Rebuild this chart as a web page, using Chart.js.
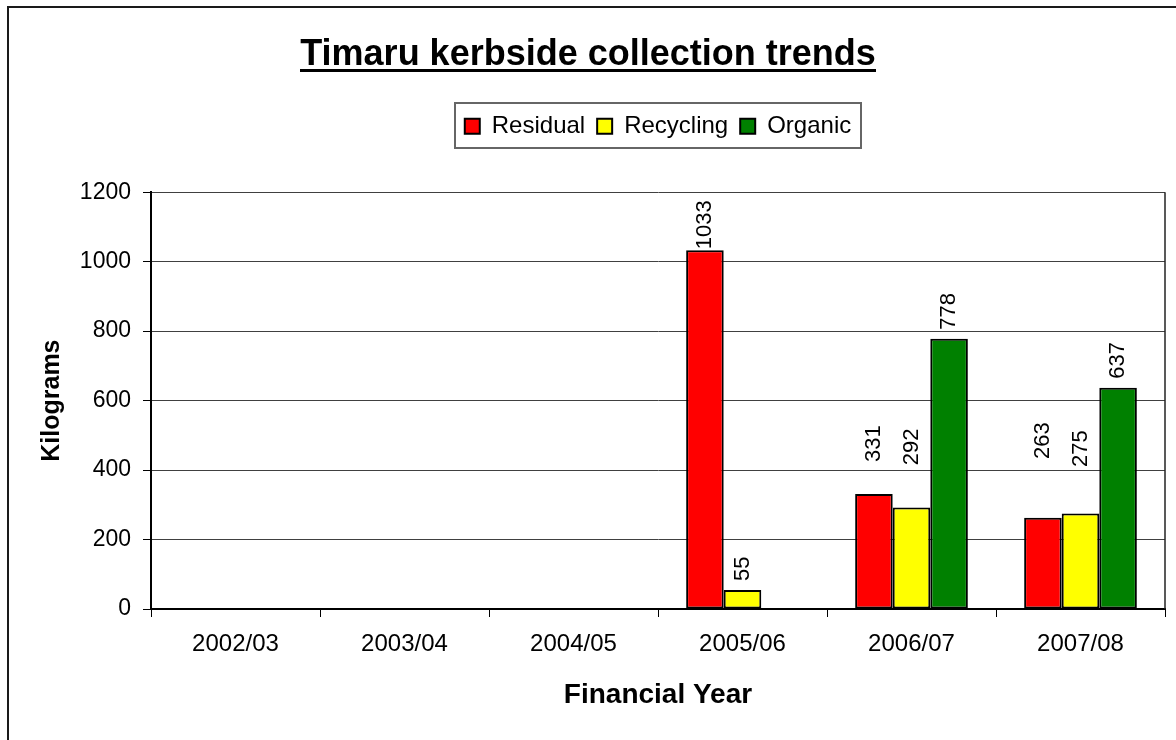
<!DOCTYPE html>
<html><head><meta charset="utf-8">
<script src="https://cdn.jsdelivr.net/npm/chart.js@4.4.0/dist/chart.umd.min.js"></script>
<style>
html,body{margin:0;padding:0;background:#fff;overflow:hidden;width:1176px;height:740px}
#frame{position:absolute;left:7px;top:6px;width:2000px;height:2000px;border-left:2px solid #1a1a1a;border-top:2px solid #1a1a1a}
#c{position:absolute;left:0;top:0}
</style></head><body>
<div id="frame"></div>
<canvas id="c" width="1176" height="740"></canvas>
<script>
const categories = ['2002/03','2003/04','2004/05','2005/06','2006/07','2007/08'];
const residual  = [null, null, null, 1033, 331, 263];
const recycling = [null, null, null, 55, 292, 275];
const organic   = [null, null, null, null, 778, 637];
const yTicks = [0, 200, 400, 600, 800, 1000, 1200];
// level (kg) where a value label starts when it was moved off its bar; null = just above the bar
const residualLabelAt  = [null, null, null, null, 423, 432];
const recyclingLabelAt = [null, null, null, null, 414, 409];
const organicLabelAt   = [null, null, null, null, null, null];

const FONT = '"Liberation Sans", Arial, Helvetica, sans-serif';
const TITLE = 'Timaru kerbside collection trends';

const valueLabels = {
  id: 'valueLabels',
  afterDatasetsDraw(chart) {
    const {ctx, chartArea, scales: {y}} = chart;
    const labelAt = [residualLabelAt, recyclingLabelAt, organicLabelAt];
    ctx.save();
    ctx.font = '22px ' + FONT;
    ctx.fillStyle = '#000';
    ctx.textAlign = 'left';
    ctx.textBaseline = 'middle';
    chart.data.datasets.forEach((ds, di) => {
      const meta = chart.getDatasetMeta(di);
      meta.data.forEach((bar, i) => {
        const v = ds.data[i];
        if (v == null) return;
        const txt = String(v);
        const w = ctx.measureText(txt).width;
        const at = labelAt[di][i];
        let base = (at != null) ? y.getPixelForValue(at) : bar.y - 9;
        if (base - w < chartArea.top + 8) base = chartArea.top + 8 + w;
        ctx.save();
        ctx.translate(bar.x, base);
        ctx.rotate(-Math.PI / 2);
        ctx.fillText(txt, 0, 0);
        ctx.restore();
      });
    });
    ctx.restore();
  }
};

const framePlugin = {
  id: 'framePlugin',
  afterDraw(chart) {
    const {ctx, chartArea: a} = chart;
    ctx.save();
    ctx.strokeStyle = '#222';
    ctx.lineWidth = 1.5;
    ctx.beginPath();
    ctx.moveTo(a.right, a.top);
    ctx.lineTo(a.right, a.bottom);
    ctx.stroke();
    const hb = chart.legend && chart.legend.legendHitBoxes;
    if (hb && hb.length) {
      const last = hb[hb.length - 1];
      const l = Math.round(hb[0].left - 10), r = Math.round(last.left + last.width + 10);
      const t = Math.round(hb[0].top - 11), b = Math.round(hb[0].top + hb[0].height + 10);
      ctx.strokeStyle = '#666';
      ctx.lineWidth = 2;
      ctx.strokeRect(l, t, r - l, b - t);
    }
    const tb = chart.titleBlock;
    if (tb) {
      const o = tb.options;
      const size = o.font.size;
      const lh = size * 1.2;
      const cy = tb.top + o.padding.top + lh / 2;
      ctx.font = 'bold ' + size + 'px ' + FONT;
      ctx.textBaseline = 'middle';
      const m = ctx.measureText(TITLE);
      const cx = (tb.left + tb.right) / 2;
      const baseY = cy + m.actualBoundingBoxDescent;
      ctx.fillStyle = '#000';
      ctx.fillRect(Math.round(cx - m.width / 2), Math.round(baseY + 4), Math.round(m.width), 3);
    }
    ctx.restore();
  }
};

new Chart(document.getElementById('c'), {
  type: 'bar',
  data: {
    labels: categories,
    datasets: [
      {label: 'Residual', data: residual, backgroundColor: '#FF0000', borderColor: '#000', borderWidth: 2, borderSkipped: false},
      {label: 'Recycling', data: recycling, backgroundColor: '#FFFF00', borderColor: '#000', borderWidth: 2, borderSkipped: false},
      {label: 'Organic', data: organic, backgroundColor: '#008000', borderColor: '#000', borderWidth: 2, borderSkipped: false}
    ]
  },
  options: {
    responsive: false,
    animation: false,
    devicePixelRatio: 1,
    layout: {padding: {left: 11, right: 11, top: 0, bottom: 0}},
    datasets: {bar: {categoryPercentage: 0.667, barPercentage: 1.0}},
    plugins: {
      title: {display: true, text: TITLE, color: '#000', font: {family: FONT, size: 36, weight: 'bold'}, padding: {top: 33, bottom: 26}},
      subtitle: {display: true, text: ' ', fullSize: false, weight: 500, font: {family: FONT, size: 10}, padding: {top: 32, bottom: 0}},
      legend: {display: true, position: 'top', fullSize: false,
        labels: {boxWidth: 15, boxHeight: 15, padding: 12, color: '#000', font: {family: FONT, size: 24}}},
      tooltip: {enabled: false}
    },
    scales: {
      x: {
        grid: {display: true, drawOnChartArea: false, drawTicks: true, tickLength: 8, color: '#000', offset: true, lineWidth: 1},
        border: {display: true, color: '#000', width: 2},
        ticks: {color: '#000', font: {family: FONT, size: 24}, padding: 13, maxRotation: 0, autoSkip: false},
        title: {display: true, text: 'Financial Year', color: '#000', font: {family: FONT, size: 28, weight: 'bold'}, padding: {top: 0, bottom: 28}},
        afterFit(s) { s.height = 131; }
      },
      y: {
        min: 0, max: 1200,
        afterBuildTicks(s) { s.ticks = yTicks.map(v => ({value: v})); },
        ticks: {color: '#000', font: {family: FONT, size: 23}, padding: 12, callback: v => String(v)},
        grid: {color: '#404040', lineWidth: 1, tickLength: 8, tickColor: '#000'},
        border: {display: true, color: '#000', width: 2},
        title: {display: true, text: 'Kilograms', color: '#000', font: {family: FONT, size: 25, weight: 'bold'}, padding: {top: 26, bottom: 0}},
        afterFit(s) { s.width = 140; }
      }
    }
  },
  plugins: [valueLabels, framePlugin]
});
</script>
</body></html>
